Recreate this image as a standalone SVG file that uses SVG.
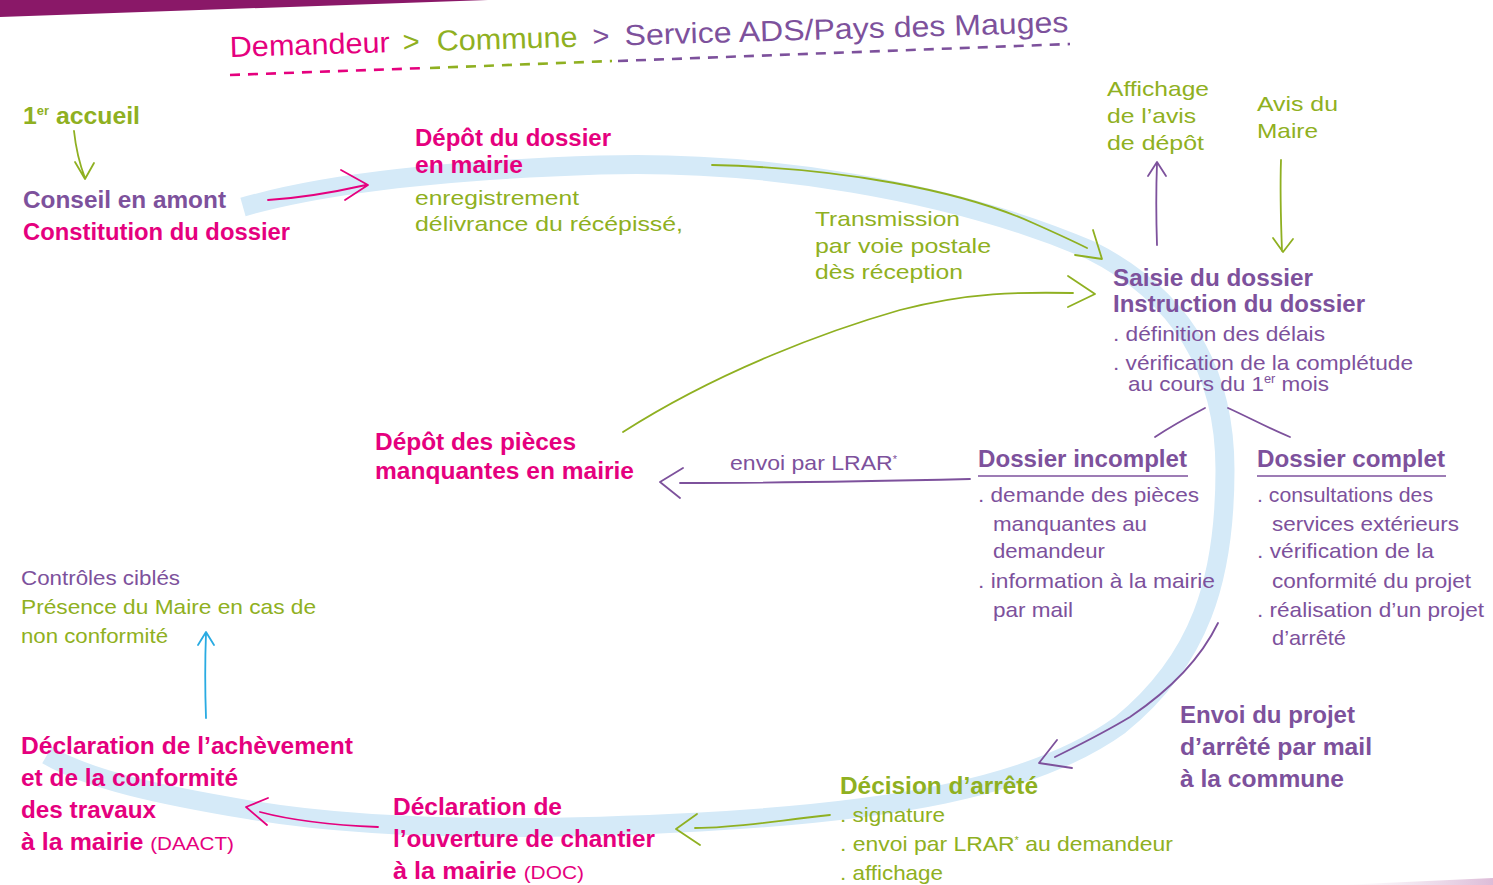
<svg xmlns="http://www.w3.org/2000/svg" width="1493" height="885" viewBox="0 0 1493 885">
<style>
text{font-family:"Liberation Sans",Arial,sans-serif}
.b{font-weight:bold;font-size:23px}
.r{font-size:21px}
.pk{fill:#E5007E}
.gr{fill:#8FB021}
.pu{fill:#7D519C}
.c{fill:none;stroke-width:1.8;stroke-linecap:round;stroke-linejoin:round}
.cg{stroke:#8FB021}
.cp{stroke:#7D519C}
.ck{stroke:#E5007E}
.cb{stroke:#29ABE2}
.dash{fill:none;stroke-width:2.6;stroke-dasharray:10 8}
</style>
<defs>
<linearGradient id="fade" x1="0" x2="1" y1="0" y2="0">
<stop offset="0" stop-color="#E9D3E6" stop-opacity="0"/>
<stop offset="1" stop-color="#DDBCD8"/>
</linearGradient>
</defs>
<rect width="1493" height="885" fill="#ffffff"/>
<polygon points="0,0 488,0 0,17" fill="#8A1868"/>
<polygon points="1340,885 1493,878 1493,885" fill="url(#fade)"/>

<g id="band">
<path d="M243,207 C330,182 450,170 600,165 C760,160 950,190 1090,250 C1190,300 1225,380 1225,470 C1225,580 1200,660 1120,725 C1030,790 880,812 700,822 C550,830 380,832 250,810 C160,795 90,780 47,755" fill="none" stroke="#D5EAF8" stroke-width="19"/>
</g>

<g id="header" transform="rotate(-1.7 230 57)">
<text x="230" y="57" font-size="29" class="pk" textLength="160" lengthAdjust="spacingAndGlyphs">Demandeur</text>
<text x="403" y="57" font-size="29" class="gr">&gt;</text>
<text x="437" y="57" font-size="29" class="gr" textLength="141" lengthAdjust="spacingAndGlyphs">Commune</text>
<text x="593" y="57" font-size="29" class="pu">&gt;</text>
<text x="625" y="57" font-size="29" class="pu" textLength="444" lengthAdjust="spacingAndGlyphs">Service ADS/Pays des Mauges</text>
</g>
<g id="header-line">
<line x1="230" y1="75" x2="425" y2="68" class="dash" stroke="#E5007E"/>
<line x1="430" y1="68" x2="612" y2="61" class="dash" stroke="#8FB021"/>
<line x1="618" y1="61" x2="1070" y2="44" class="dash" stroke="#7D519C"/>
</g>

<g id="accueil">
<text x="23" y="124" class="b gr" textLength="117" lengthAdjust="spacingAndGlyphs">1<tspan font-size="12" dy="-9">er</tspan><tspan dy="9"> accueil</tspan></text>
</g>
<g id="conseil">
<text x="23" y="208" class="b pu" textLength="203" lengthAdjust="spacingAndGlyphs">Conseil en amont</text>
<text x="23" y="240" class="b pk" textLength="267" lengthAdjust="spacingAndGlyphs">Constitution du dossier</text>
</g>
<g id="depot-dossier">
<text x="415" y="146" class="b pk" textLength="196" lengthAdjust="spacingAndGlyphs">Dépôt du dossier</text>
<text x="415" y="173" class="b pk" textLength="108" lengthAdjust="spacingAndGlyphs">en mairie</text>
<text x="415" y="205" class="r gr" font-size="22" textLength="164" lengthAdjust="spacingAndGlyphs">enregistrement</text>
<text x="415" y="231" class="r gr" font-size="22" textLength="268" lengthAdjust="spacingAndGlyphs">délivrance du récépissé,</text>
</g>
<g id="transmission">
<text x="815" y="226" class="r gr" font-size="22" textLength="145" lengthAdjust="spacingAndGlyphs">Transmission</text>
<text x="815" y="253" class="r gr" font-size="22" textLength="176" lengthAdjust="spacingAndGlyphs">par voie postale</text>
<text x="815" y="279" class="r gr" font-size="22" textLength="148" lengthAdjust="spacingAndGlyphs">dès réception</text>
</g>
<g id="affichage">
<text x="1107" y="96" class="r gr" font-size="23" textLength="102" lengthAdjust="spacingAndGlyphs">Affichage</text>
<text x="1107" y="123" class="r gr" font-size="23" textLength="89" lengthAdjust="spacingAndGlyphs">de l’avis</text>
<text x="1107" y="150" class="r gr" font-size="23" textLength="97" lengthAdjust="spacingAndGlyphs">de dépôt</text>
</g>
<g id="avis-maire">
<text x="1257" y="111" class="r gr" font-size="23" textLength="81" lengthAdjust="spacingAndGlyphs">Avis du</text>
<text x="1257" y="138" class="r gr" font-size="23" textLength="61" lengthAdjust="spacingAndGlyphs">Maire</text>
</g>
<g id="instruction">
<text x="1113" y="286" class="b pu" font-size="24" textLength="200" lengthAdjust="spacingAndGlyphs">Saisie du dossier</text>
<text x="1113" y="312" class="b pu" font-size="24" textLength="252" lengthAdjust="spacingAndGlyphs">Instruction du dossier</text>
<text x="1113" y="341" class="r pu" textLength="212" lengthAdjust="spacingAndGlyphs">. définition des délais</text>
<text x="1113" y="370" class="r pu" textLength="300" lengthAdjust="spacingAndGlyphs">. vérification de la complétude</text>
<text x="1128" y="391" class="r pu" textLength="201" lengthAdjust="spacingAndGlyphs">au cours du 1<tspan font-size="12" dy="-8">er</tspan><tspan dy="8"> mois</tspan></text>
</g>
<g id="incomplet">
<text x="978" y="467" class="b pu" textLength="209" lengthAdjust="spacingAndGlyphs">Dossier incomplet</text>
<line x1="978" y1="476" x2="1188" y2="476" stroke="#7D519C" stroke-width="1.3"/>
<text x="978" y="502" class="r pu" textLength="221" lengthAdjust="spacingAndGlyphs">. demande des pièces</text>
<text x="993" y="531" class="r pu" textLength="154" lengthAdjust="spacingAndGlyphs">manquantes au</text>
<text x="993" y="558" class="r pu" textLength="112" lengthAdjust="spacingAndGlyphs">demandeur</text>
<text x="978" y="588" class="r pu" textLength="237" lengthAdjust="spacingAndGlyphs">. information à la mairie</text>
<text x="993" y="617" class="r pu" textLength="80" lengthAdjust="spacingAndGlyphs">par mail</text>
</g>
<g id="complet">
<text x="1257" y="467" class="b pu" textLength="188" lengthAdjust="spacingAndGlyphs">Dossier complet</text>
<line x1="1257" y1="476" x2="1446" y2="476" stroke="#7D519C" stroke-width="1.3"/>
<text x="1257" y="502" class="r pu" textLength="176" lengthAdjust="spacingAndGlyphs">. consultations des</text>
<text x="1272" y="531" class="r pu" textLength="187" lengthAdjust="spacingAndGlyphs">services extérieurs</text>
<text x="1257" y="558" class="r pu" textLength="177" lengthAdjust="spacingAndGlyphs">. vérification de la</text>
<text x="1272" y="588" class="r pu" textLength="199" lengthAdjust="spacingAndGlyphs">conformité du projet</text>
<text x="1257" y="617" class="r pu" textLength="227" lengthAdjust="spacingAndGlyphs">. réalisation d’un projet</text>
<text x="1272" y="645" class="r pu" textLength="74" lengthAdjust="spacingAndGlyphs">d’arrêté</text>
</g>
<g id="lrar-label">
<text x="730" y="470" class="r pu" font-size="19" textLength="167" lengthAdjust="spacingAndGlyphs">envoi par LRAR<tspan font-size="10" dy="-7">*</tspan></text>
</g>
<g id="pieces">
<text x="375" y="450" class="b pk" textLength="201" lengthAdjust="spacingAndGlyphs">Dépôt des pièces</text>
<text x="375" y="479" class="b pk" textLength="259" lengthAdjust="spacingAndGlyphs">manquantes en mairie</text>
</g>
<g id="controles">
<text x="21" y="585" class="r pu" font-size="20" textLength="159" lengthAdjust="spacingAndGlyphs">Contrôles ciblés</text>
<text x="21" y="614" class="r gr" font-size="20" textLength="295" lengthAdjust="spacingAndGlyphs">Présence du Maire en cas de</text>
<text x="21" y="643" class="r gr" font-size="20" textLength="147" lengthAdjust="spacingAndGlyphs">non conformité</text>
</g>
<g id="daact">
<text x="21" y="754" class="b pk" textLength="332" lengthAdjust="spacingAndGlyphs">Déclaration de l’achèvement</text>
<text x="21" y="786" class="b pk" textLength="217" lengthAdjust="spacingAndGlyphs">et de la conformité</text>
<text x="21" y="818" class="b pk" textLength="135" lengthAdjust="spacingAndGlyphs">des travaux</text>
<text x="21" y="850" class="b pk" textLength="213" lengthAdjust="spacingAndGlyphs">à la mairie <tspan font-weight="normal" font-size="19">(DAACT)</tspan></text>
</g>
<g id="doc">
<text x="393" y="815" class="b pk" textLength="169" lengthAdjust="spacingAndGlyphs">Déclaration de</text>
<text x="393" y="847" class="b pk" textLength="262" lengthAdjust="spacingAndGlyphs">l’ouverture de chantier</text>
<text x="393" y="879" class="b pk" textLength="191" lengthAdjust="spacingAndGlyphs">à la mairie <tspan font-weight="normal" font-size="19">(DOC)</tspan></text>
</g>
<g id="decision">
<text x="840" y="794" class="b gr" textLength="198" lengthAdjust="spacingAndGlyphs">Décision d’arrêté</text>
<text x="840" y="822" class="r gr" font-size="20" textLength="105" lengthAdjust="spacingAndGlyphs">. signature</text>
<text x="840" y="851" class="r gr" font-size="20" textLength="333" lengthAdjust="spacingAndGlyphs">. envoi par LRAR<tspan font-size="10" dy="-7">*</tspan><tspan dy="7"> au demandeur</tspan></text>
<text x="840" y="880" class="r gr" font-size="20" textLength="103" lengthAdjust="spacingAndGlyphs">. affichage</text>
</g>
<g id="envoi-projet">
<text x="1180" y="723" class="b pu" textLength="175" lengthAdjust="spacingAndGlyphs">Envoi du projet</text>
<text x="1180" y="755" class="b pu" textLength="192" lengthAdjust="spacingAndGlyphs">d’arrêté par mail</text>
<text x="1180" y="787" class="b pu" textLength="164" lengthAdjust="spacingAndGlyphs">à la commune</text>
</g>

<g id="connectors">
<path class="c cg" d="M74,131 C76,150 80,165 85,178 M75,162 L85,179 L94,163"/>
<path class="c ck" d="M268,200 C300,198 335,192 366,185 M341,170 L368,185 L345,200"/>
<path class="c cg" d="M712,165 C840,168 960,190 1033,223 C1060,235 1075,242 1087,248 M1093,230 L1102,259 L1075,255"/>
<path class="c cg" d="M623,432 C720,370 830,330 900,310 C970,292 1020,292 1073,293 M1068,276 L1095,294 L1068,307"/>
<path class="c cp" d="M1157,245 C1156,215 1156,190 1157,163 M1148,176 L1157,162 L1166,176"/>
<path class="c cg" d="M1281,160 C1280,190 1281,225 1282,251 M1273,238 L1283,252 L1293,239"/>
<path class="c cp" d="M1155,437 C1170,427 1188,417 1205,408"/>
<path class="c cp" d="M1228,408 C1248,417 1268,428 1290,437"/>
<path class="c cp" d="M970,479 C880,481 770,483 680,483 M683,468 L660,482 L680,498"/>
<path class="c cb" d="M206,718 C205,690 205,660 206,633 M198,645 L206,632 L214,645"/>
<path class="c ck" d="M378,827 C330,825 290,820 260,812 M268,798 L246,807 L267,825"/>
<path class="c cg" d="M830,815 C780,820 740,828 695,828 M697,814 L676,829 L700,845"/>
<path class="c cp" d="M1218,623 C1200,660 1170,690 1130,717 C1100,735 1075,747 1055,757 M1057,740 L1039,763 L1072,768"/>
</g>
</svg>
